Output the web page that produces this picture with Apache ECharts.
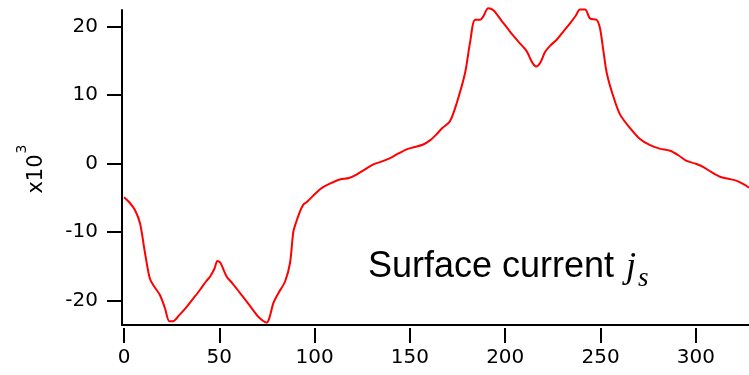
<!DOCTYPE html>
<html>
<head>
<meta charset="utf-8">
<script src="https://cdn.jsdelivr.net/npm/echarts@6/dist/echarts.min.js"></script>
<style>
  html, body { margin: 0; padding: 0; background: #fff; }
  #chart { width: 749px; height: 375px; }
</style>
</head>
<body>
<div id="chart"></div>
<script>
// position along the surface
const xs = [0, 3, 5.8, 8.4, 11, 13.6, 16, 18.9, 21.5, 23.8, 25.7, 29, 32.9, 36, 39.9, 43, 45.1, 47.5, 49, 50.4,
  51.5, 53.9, 57, 60.9, 64, 67.8, 71, 74.9, 76.5, 78.3, 81, 84.5, 87.1, 88.8, 90, 92.3, 94, 95.9, 101, 104,
  108, 113.3, 118, 122, 126, 130.8, 135, 139.6, 144, 148.3, 152, 157, 160.5, 164, 167, 171, 174.5, 178.9, 181.5, 184.2,
  186.8, 188.5, 191.1, 193.8, 198, 202.5, 207, 211.3, 213.9, 216.2, 218.3, 220.9, 223.5, 227, 230.5, 234, 237, 239.2, 241.9, 244.5,
  248, 249.7, 251.5, 253.3, 256.5, 260.2, 265.5, 270.7, 276, 281, 286.5, 291, 295.2, 300, 304, 308, 312.7, 317, 321.5, 325, 327.9]
// surface current (x10^3)
const js = [-4.9, -5.7, -6.8, -8.7, -13.0, -16.8, -18.0, -19.2, -21.1, -23.0, -23.0, -22.1, -20.9, -19.8, -18.4, -17.2, -16.5, -15.3, -14.2, -14.4,
  -15.0, -16.5, -17.5, -18.9, -20.0, -21.4, -22.5, -23.2, -22.3, -20.4, -18.9, -17.2, -14.5, -10.0, -8.8, -7.0, -6.0, -5.6, -4.2, -3.5,
  -2.9, -2.3, -2.1, -1.6, -0.9, -0.1, 0.3, 0.8, 1.5, 2.1, 2.4, 2.8, 3.4, 4.3, 5.2, 6.2, 8.8, 13.2, 17.6, 21.0,
  21.0, 21.5, 22.7, 22.4, 20.9, 19.3, 17.8, 16.4, 14.9, 14.2, 14.7, 16.3, 17.2, 18.1, 19.3, 20.5, 21.6, 22.5, 22.5, 21.2,
  21.0, 19.8, 16.5, 13.2, 10.0, 7.2, 5.2, 3.6, 2.7, 2.2, 1.9, 1.2, 0.4, 0.0, -0.5, -1.2, -1.9, -2.2, -2.5, -3.0, -3.5]

const xTicks = [0, 50, 100, 150, 200, 250, 300]
const yTicks = [-20, -10, 0, 10, 20]

const chart = echarts.init(document.getElementById("chart"))

const tickFont = { color: "#000", fontFamily: "DejaVu Sans", fontSize: 20 }

const option = {
  animation: false,
  grid: { left: 122, right: 0, top: 10, bottom: 50 },
  xAxis: [
    {
      type: "value",
      min: -1.05,
      max: 327.9,
      axisLine: { show: true, onZero: false, lineStyle: { color: "#000", width: 2 } },
      axisTick: { show: false },
      axisLabel: { show: false },
      splitLine: { show: false },
    },
    {
      type: "value",
      position: "bottom",
      offset: 3,
      min: -1.05,
      max: 327.9,
      axisLine: { show: false, onZero: false },
      axisTick: { show: true, length: 15, customValues: xTicks, lineStyle: { color: "#000", width: 2 } },
      axisLabel: { show: true, customValues: xTicks, margin: 20, ...tickFont },
      splitLine: { show: false },
    },
  ],
  yAxis: {
    type: "value",
    min: -23.55,
    max: 22.44,
    axisLine: { show: true, onZero: false, lineStyle: { color: "#000", width: 2 } },
    axisTick: { show: true, length: 15, customValues: yTicks, lineStyle: { color: "#000", width: 2 } },
    axisLabel: { show: true, customValues: yTicks, margin: 24, ...tickFont },
    splitLine: { show: false },
  },
  series: [
    {
      type: "line",
      xAxisIndex: 0,
      data: xs.map((x, i) => [x, js[i]]),
      showSymbol: false,
      smooth: 0.3,
      clip: false,
      lineStyle: { color: "#ff0000", width: 2 },
    },
  ],
  graphic: [
    {
      type: "text", x: 37, y: 174, rotation: Math.PI / 2,
      style: { text: "x10", fill: "#000", font: "21px 'DejaVu Sans'", align: "center", verticalAlign: "middle" },
    },
    {
      type: "text", x: 22, y: 149, rotation: Math.PI / 2,
      style: { text: "3", fill: "#000", font: "14px 'DejaVu Sans'", align: "center", verticalAlign: "middle" },
    },
    {
      type: "text", x: 368, y: 267,
      style: { text: "Surface current", fill: "#000", font: "36px 'Liberation Sans'", align: "left", verticalAlign: "middle" },
    },
    {
      type: "text", x: 626, y: 268,
      style: { text: "j", fill: "#000", font: "italic 36px 'Liberation Serif'", align: "left", verticalAlign: "middle" },
    },
    {
      type: "text", x: 638, y: 279,
      style: { text: "s", fill: "#000", font: "italic 27px 'Liberation Serif'", align: "left", verticalAlign: "middle" },
    },
  ],
}

chart.setOption(option)
</script>
</body>
</html>
